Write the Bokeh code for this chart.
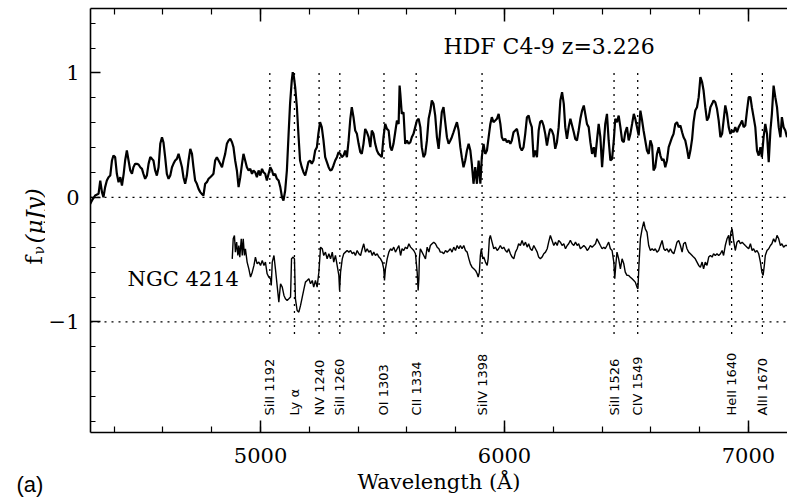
import math
from bokeh.plotting import figure
from bokeh.layouts import row
from bokeh.models import Range1d, LinearAxis, Span, Label, SingleIntervalTicker
from bokeh.embed import file_html
from bokeh.resources import INLINE
from bokeh.core.properties import value

# ---------------- data ----------------
hdf_wave = [4295, 4309, 4322, 4336, 4343, 4350, 4356, 4363, 4370, 4377, 4384, 4391, 4397, 4404, 4411, 4418,
            4425, 4432, 4439, 4445, 4452, 4459, 4466, 4473, 4479, 4486, 4493, 4500, 4507, 4514, 4520, 4527,
            4534, 4541, 4548, 4555, 4561, 4568, 4575, 4582, 4589, 4596, 4602, 4609, 4616, 4623, 4630, 4637,
            4643, 4650, 4657, 4664, 4671, 4678, 4684, 4691, 4698, 4705, 4712, 4719, 4725, 4732, 4739, 4746,
            4753, 4759, 4766, 4773, 4780, 4787, 4794, 4801, 4807, 4814, 4821, 4828, 4835, 4842, 4848, 4855,
            4862, 4869, 4876, 4883, 4889, 4896, 4903, 4910, 4917, 4924, 4930, 4937, 4944, 4951, 4958, 4965,
            4971, 4978, 4985, 4992, 4999, 5006, 5012, 5019, 5026, 5033, 5040, 5047, 5053, 5060, 5067, 5074,
            5081, 5088, 5094, 5101, 5108, 5115, 5121, 5128, 5132, 5136, 5142, 5149, 5156, 5162, 5169, 5176,
            5183, 5190, 5196, 5203, 5210, 5217, 5224, 5231, 5237, 5244, 5251, 5258,
            5265, 5272, 5279, 5286, 5292, 5299, 5306, 5313, 5320, 5327, 5333, 5340, 5347, 5354, 5361, 5368,
            5374, 5381, 5388, 5395, 5402, 5409, 5415, 5422, 5429, 5436, 5443, 5450, 5456, 5463, 5470, 5477,
            5484, 5491, 5497, 5504, 5511, 5518, 5525, 5532, 5538, 5545, 5552, 5559, 5566, 5570, 5573, 5579,
            5586, 5593, 5600, 5607, 5614, 5620, 5627, 5634, 5641, 5648, 5655, 5661, 5668, 5675, 5682, 5689,
            5696, 5702, 5709, 5716, 5723, 5730, 5737, 5743, 5750, 5757, 5764, 5771, 5778, 5784, 5791, 5798,
            5805, 5812, 5819, 5825, 5832, 5839, 5846, 5853, 5860, 5866, 5873, 5880, 5887, 5894, 5901, 5907,
            5914, 5921, 5928, 5935, 5942, 5948, 5955, 5962, 5969, 5976, 5983, 5989, 5996, 6003, 6010, 6017,
            6024, 6030, 6037, 6044, 6051, 6058, 6064, 6071, 6078, 6085, 6092, 6099, 6105, 6112, 6119, 6126,
            6133, 6140, 6146, 6153, 6160, 6167, 6174, 6181, 6187, 6194, 6201,
            6208, 6215, 6222, 6229, 6236, 6243, 6249, 6256, 6263, 6270, 6277, 6284, 6290, 6297, 6304, 6311,
            6318, 6325, 6331, 6338, 6345, 6352, 6359, 6366, 6372, 6379, 6386, 6393, 6400, 6407, 6413, 6420,
            6427, 6434, 6441, 6448, 6454, 6461, 6468, 6475, 6482, 6489, 6495, 6502, 6509, 6516, 6523, 6530,
            6536, 6543, 6550, 6557, 6564, 6570, 6577, 6584, 6591, 6598, 6605, 6611, 6618, 6625, 6632, 6639,
            6646, 6652, 6659, 6666, 6673, 6680, 6687, 6693, 6700, 6707, 6714, 6721, 6728, 6734, 6741, 6748,
            6755, 6762, 6769, 6775, 6782, 6789, 6796, 6803, 6810, 6816, 6823, 6830, 6837, 6844, 6851, 6857,
            6864, 6871, 6878, 6885, 6892, 6898, 6905, 6912, 6919, 6926, 6933, 6939, 6946, 6953, 6960, 6967,
            6974, 6980, 6987, 6994, 7001, 7008, 7014, 7021, 7028, 7035, 7042, 7049, 7055, 7062, 7069, 7076,
            7083, 7090, 7096, 7103, 7110, 7117, 7124, 7131, 7137, 7144, 7151, 7158]
hdf_flux = [-0.078, -0.024, 0.016, 0.029, 0.136, 0.043, 0.002, 0.083, 0.136, 0.163, 0.176, 0.297, 0.337, 0.324, 0.190, 0.123,
            0.163, 0.096, 0.190, 0.297, 0.377, 0.297, 0.217, 0.190, 0.243, 0.270, 0.270, 0.265, 0.243, 0.230, 0.190, 0.150,
            0.176, 0.270, 0.324, 0.310, 0.297, 0.217, 0.176, 0.243, 0.431, 0.484, 0.444, 0.324, 0.190, 0.150, 0.176, 0.243,
            0.270, 0.297, 0.310, 0.350, 0.297, 0.243, 0.163, 0.110, 0.176, 0.297, 0.391, 0.350, 0.243, 0.136, 0.110, 0.069,
            0.043, 0.029, 0.016, 0.110, 0.123, 0.150, 0.163, 0.176, 0.190, 0.297, 0.324, 0.297, 0.270, 0.243, 0.297, 0.350,
            0.431, 0.458, 0.471, 0.444, 0.404, 0.297, 0.217, 0.083, 0.163, 0.270, 0.350, 0.297, 0.243, 0.217, 0.230, 0.190,
            0.217, 0.203, 0.163, 0.217, 0.176, 0.230, 0.203, 0.190, 0.136, 0.190, 0.243, 0.217, 0.176, 0.190, 0.150, 0.136,
            0.083, 0.002, -0.024, 0.056, 0.217, 0.511, 0.752, 0.939, 1.006, 0.980, 0.886, 0.725, 0.484, 0.297, 0.243, 0.203,
            0.176, 0.230, 0.284, 0.297, 0.270, 0.297, 0.377, 0.404, 0.511, 0.605, 0.565, 0.458,
            0.324, 0.284, 0.243, 0.217, 0.222, 0.257, 0.297, 0.324, 0.364, 0.350, 0.324, 0.337, 0.377, 0.324, 0.458, 0.632,
            0.725, 0.645, 0.538, 0.511, 0.431, 0.364, 0.350, 0.431, 0.551, 0.524, 0.484, 0.404, 0.538, 0.511, 0.431, 0.377,
            0.350, 0.337, 0.324, 0.484, 0.591, 0.551, 0.538, 0.404, 0.377, 0.431, 0.524, 0.618, 0.591, 0.899, 0.832, 0.672,
            0.685, 0.431, 0.458, 0.431, 0.444, 0.484, 0.511, 0.565, 0.618, 0.632, 0.565, 0.404, 0.324, 0.350, 0.458, 0.632,
            0.698, 0.779, 0.752, 0.658, 0.484, 0.391, 0.551, 0.685, 0.725, 0.605, 0.484, 0.431, 0.458, 0.484, 0.524, 0.565,
            0.605, 0.538, 0.404, 0.324, 0.243, 0.297, 0.377, 0.431, 0.377, 0.270, 0.110, 0.243, 0.110, 0.297, 0.110, 0.324,
            0.431, 0.350, 0.377, 0.484, 0.591, 0.645, 0.605, 0.618, 0.632, 0.672, 0.591, 0.484, 0.458, 0.471, 0.444, 0.458,
            0.431, 0.458, 0.524, 0.538, 0.551, 0.484, 0.404, 0.377, 0.404, 0.511, 0.645, 0.658, 0.605, 0.565, 0.324, 0.377,
            0.324, 0.538, 0.605, 0.618, 0.578, 0.511, 0.417, 0.498, 0.551, 0.538, 0.498,
            0.391, 0.444, 0.565, 0.779, 0.846, 0.752, 0.565, 0.471, 0.565, 0.632, 0.578, 0.524, 0.471, 0.458, 0.538, 0.632,
            0.698, 0.739, 0.672, 0.591, 0.565, 0.444, 0.350, 0.404, 0.324, 0.458, 0.591, 0.484, 0.243, 0.431, 0.591, 0.672,
            0.458, 0.297, 0.310, 0.458, 0.632, 0.605, 0.658, 0.565, 0.458, 0.444, 0.524, 0.565, 0.458, 0.511, 0.591, 0.672,
            0.632, 0.565, 0.498, 0.698, 0.618, 0.538, 0.458, 0.377, 0.350, 0.458, 0.417, 0.217, 0.243, 0.350, 0.404, 0.337,
            0.297, 0.310, 0.243, 0.297, 0.404, 0.444, 0.484, 0.511, 0.591, 0.605, 0.565, 0.578, 0.524, 0.484, 0.458, 0.391,
            0.310, 0.377, 0.471, 0.605, 0.698, 0.725, 0.806, 0.966, 0.926, 0.859, 0.725, 0.618, 0.645, 0.725, 0.752, 0.779,
            0.765, 0.712, 0.618, 0.484, 0.511, 0.618, 0.739, 0.672, 0.565, 0.511, 0.538, 0.524, 0.565, 0.524, 0.565, 0.591,
            0.618, 0.565, 0.578, 0.698, 0.806, 0.806, 0.725, 0.645, 0.565, 0.377, 0.337, 0.404, 0.324, 0.484, 0.591, 0.511,
            0.284, 0.538, 0.672, 0.899, 0.806, 0.725, 0.565, 0.484, 0.645, 0.565, 0.538, 0.484]

ngc_wave = [4884, 4888, 4893, 4897, 4902, 4907, 4911, 4915, 4921, 4925, 4929, 4934, 4938, 4945, 4952, 4959,
            4966, 4973, 4979, 4986, 4993, 5000, 5007, 5014, 5020, 5027, 5034, 5041, 5044, 5048, 5055, 5061,
            5068, 5075, 5082, 5089, 5096, 5102, 5109, 5116, 5123, 5127, 5134, 5139, 5143, 5150, 5157, 5164,
            5171, 5178, 5184, 5191, 5198, 5205, 5212, 5218, 5225, 5232, 5239, 5246, 5253, 5259, 5266, 5273,
            5280, 5287, 5294, 5300, 5307, 5314, 5321, 5324, 5328, 5335, 5341, 5348, 5355, 5362, 5369, 5376,
            5382, 5389, 5396, 5403, 5410, 5417, 5423, 5430, 5437, 5444, 5451, 5458, 5464, 5471, 5478, 5485,
            5492, 5499, 5505, 5508, 5512, 5519, 5526, 5533, 5539, 5546, 5553, 5560, 5567, 5574, 5580, 5587,
            5594, 5601, 5608, 5615,
            5628, 5635, 5642, 5646, 5649, 5651, 5655, 5662, 5669, 5676, 5683, 5690, 5696, 5703, 5710, 5717,
            5724, 5731, 5737, 5744, 5751, 5758, 5765, 5772, 5778, 5785, 5792, 5799, 5806, 5813, 5819, 5826,
            5833, 5840, 5847, 5854, 5860, 5867, 5874, 5881, 5888, 5892, 5897, 5901, 5905, 5911, 5915, 5922,
            5929, 5933, 5938, 5942, 5949, 5956, 5963, 5970, 5976, 5983, 5990, 5997, 6004, 6011, 6017, 6024,
            6031, 6038, 6045, 6052, 6058, 6065, 6072, 6079, 6086, 6093, 6099, 6106, 6113, 6120, 6127, 6134,
            6140, 6147, 6154, 6161, 6168, 6175, 6181, 6188, 6195, 6202, 6209, 6216, 6222, 6229, 6236, 6243,
            6250, 6257, 6263, 6270, 6277, 6284, 6291, 6298, 6304, 6311, 6318, 6325, 6332, 6339, 6345, 6352,
            6359, 6366, 6373,
            6379, 6386, 6393, 6400, 6407, 6413, 6420, 6427, 6434, 6441, 6448, 6452, 6456, 6461, 6468, 6475,
            6482, 6489, 6495, 6502, 6509, 6516, 6523, 6530, 6536, 6543, 6547, 6551, 6557, 6564, 6571, 6577,
            6584, 6591, 6598, 6605, 6612, 6618, 6625, 6632, 6639, 6646, 6653, 6659, 6666, 6673, 6680, 6687,
            6694, 6700, 6707, 6714, 6721, 6728, 6734, 6741, 6748, 6755, 6762, 6769, 6775, 6782, 6789, 6796,
            6803, 6810, 6816, 6823, 6830, 6837, 6844, 6851, 6857, 6864, 6871, 6878, 6885, 6892, 6898, 6905,
            6912, 6919, 6923, 6928, 6933, 6939, 6946, 6953, 6960, 6967, 6974, 6980, 6987, 6994, 7001, 7008,
            7015, 7021, 7028, 7035, 7042, 7049, 7055, 7060, 7065, 7069, 7076, 7083, 7090, 7096, 7103, 7110,
            7117, 7124, 7131, 7137, 7144, 7151, 7158]
ngc_flux = [-0.493, -0.332, -0.305, -0.439, -0.359, -0.466, -0.386, -0.479, -0.332, -0.466, -0.332, -0.466, -0.412, -0.519, -0.573, -0.640,
            -0.600, -0.546, -0.479, -0.533, -0.519, -0.546, -0.506, -0.546, -0.519, -0.613, -0.640, -0.653, -0.707, -0.519, -0.466, -0.573,
            -0.707, -0.841, -0.693, -0.720, -0.787, -0.814, -0.827, -0.814, -0.800, -0.493, -0.479, -0.493, -0.814, -0.908, -0.921, -0.867,
            -0.800, -0.734, -0.680, -0.667, -0.653, -0.693, -0.667, -0.720, -0.667, -0.720, -0.600, -0.399, -0.412, -0.466, -0.439, -0.493,
            -0.452, -0.493, -0.439, -0.519, -0.466, -0.546, -0.626, -0.747, -0.600, -0.493, -0.452, -0.439, -0.426, -0.439, -0.426, -0.452,
            -0.439, -0.466, -0.426, -0.452, -0.466, -0.412, -0.372, -0.439, -0.412, -0.439, -0.426, -0.466, -0.439, -0.466, -0.452, -0.479,
            -0.493, -0.519, -0.573, -0.667, -0.573, -0.493, -0.439, -0.412, -0.426, -0.399, -0.439, -0.412, -0.386, -0.466, -0.412, -0.426,
            -0.399, -0.412, -0.372, -0.399,
            -0.426, -0.452, -0.600, -0.747, -0.653, -0.493, -0.412, -0.439, -0.466, -0.493, -0.399, -0.439, -0.386, -0.372, -0.359, -0.372,
            -0.399, -0.412, -0.439, -0.439, -0.452, -0.426, -0.439, -0.426, -0.412, -0.439, -0.399, -0.426, -0.386, -0.412, -0.386, -0.412,
            -0.386, -0.426, -0.439, -0.493, -0.533, -0.560, -0.573, -0.586, -0.613, -0.640, -0.600, -0.466, -0.412, -0.493, -0.479, -0.519,
            -0.546, -0.493, -0.332, -0.305, -0.359, -0.412, -0.399, -0.426, -0.412, -0.386, -0.412, -0.399, -0.426, -0.439, -0.412, -0.452,
            -0.479, -0.493, -0.439, -0.412, -0.372, -0.386, -0.345, -0.386, -0.359, -0.399, -0.372, -0.412, -0.426, -0.386, -0.412, -0.439,
            -0.479, -0.493, -0.479, -0.452, -0.439, -0.412, -0.359, -0.305, -0.345, -0.386, -0.359, -0.386, -0.345, -0.359, -0.386, -0.372,
            -0.412, -0.386, -0.372, -0.345, -0.372, -0.386, -0.359, -0.386, -0.372, -0.412, -0.399, -0.386, -0.399, -0.426, -0.412, -0.386,
            -0.399, -0.386, -0.372,
            -0.332, -0.359, -0.386, -0.412, -0.399, -0.412, -0.386, -0.359, -0.412, -0.426, -0.519, -0.653, -0.546, -0.439, -0.493, -0.573,
            -0.493, -0.533, -0.600, -0.626, -0.626, -0.640, -0.653, -0.667, -0.680, -0.720, -0.734, -0.546, -0.332, -0.252, -0.195, -0.252,
            -0.278, -0.386, -0.426, -0.412, -0.426, -0.412, -0.439, -0.426, -0.386, -0.345, -0.412, -0.426, -0.412, -0.439, -0.412, -0.439,
            -0.452, -0.412, -0.359, -0.345, -0.386, -0.439, -0.372, -0.359, -0.412, -0.439, -0.452, -0.466, -0.479, -0.493, -0.519, -0.546,
            -0.560, -0.519, -0.573, -0.519, -0.546, -0.479, -0.466, -0.479, -0.452, -0.466, -0.452, -0.466, -0.452, -0.426, -0.466, -0.386,
            -0.332, -0.305, -0.386, -0.278, -0.252, -0.345, -0.426, -0.359, -0.345, -0.372, -0.359, -0.372, -0.386, -0.399, -0.412, -0.372,
            -0.426, -0.412, -0.439, -0.426, -0.452, -0.519, -0.600, -0.626, -0.546, -0.466, -0.426, -0.412, -0.386, -0.372, -0.332, -0.359,
            -0.305, -0.332, -0.386, -0.372, -0.399, -0.386, -0.386]

line_names = ["SiII 1192", "Ly \u03b1", "NV 1240", "SiII 1260", "OI 1303", "CII 1334",
              "SiIV 1398", "SiII 1526", "CIV 1549", "HeII 1640", "AlII 1670"]
line_waves = [5038, 5139, 5240, 5325, 5506, 5638, 5908, 6449, 6546, 6931, 7057]
line_top = 1.0
line_bottom = -1.11
label_base = -1.751

x_major = 1000
y_major = 1
y_tick_text = {-1: "\u22121", 0: "0", 1: "1"}

SERIF = "DejaVu Serif"
W = 787
H = 502
STRIP_W = 45

# ---------------- left strip: y-axis title and panel letter ----------------
s = figure(width=STRIP_W, height=H, output_backend="svg", toolbar_location=None,
           x_range=Range1d(0, STRIP_W), y_range=Range1d(0, H),
           x_axis_location=None, y_axis_location=None,
           min_border_left=0, min_border_right=0, min_border_top=0, min_border_bottom=0)
s.frame_align = False
s.outline_line_color = None
s.grid.visible = False
s.text(x=[33], y=[238], text=["f"], angle=math.pi / 2, text_align="left",
       text_baseline="alphabetic", text_color="black",
       text_font=value(SERIF), text_font_size=value("23px"))
s.text(x=[38], y=[248], text=["\u03bd"], angle=math.pi / 2, text_align="left",
       text_baseline="alphabetic", text_color="black",
       text_font=value(SERIF), text_font_size=value("14px"))
s.text(x=[33], y=[259], text=["(\u03bcJy)"], angle=math.pi / 2, text_align="left",
       text_baseline="alphabetic", text_color="black", text_font_style="italic",
       text_font=value(SERIF), text_font_size=value("23px"))
s.text(x=[16], y=[18], text=["(a)"], text_align="left", text_baseline="alphabetic",
       text_color="black", text_font=value("Liberation Sans"), text_font_size=value("22px"))

# ---------------- main panel ----------------
p = figure(width=W - STRIP_W, height=H, output_backend="svg", toolbar_location=None,
           x_range=Range1d(4303, 7160), y_range=Range1d(-1.888, 1.518),
           min_border_left=42, min_border_right=0, min_border_top=8, min_border_bottom=70)
p.frame_align = False
p.outline_line_color = None
p.xgrid.visible = False
p.ygrid.visible = False

bottom = p.below[0]
left = p.left[0]
bottom.ticker = SingleIntervalTicker(interval=x_major, num_minor_ticks=5)
bottom.major_tick_in = 12
bottom.major_tick_out = 0
bottom.minor_tick_in = 6
bottom.minor_tick_out = 0
bottom.major_label_standoff = 15
bottom.axis_label = "Wavelength (\u00c5)"
bottom.axis_label_standoff = 4
bottom.axis_label_text_font = SERIF
bottom.axis_label_text_font_size = "21px"
bottom.axis_label_text_font_style = "normal"
bottom.axis_label_text_color = "black"

left.ticker = SingleIntervalTicker(interval=y_major, num_minor_ticks=5)
left.major_tick_in = 10
left.major_tick_out = 0
left.minor_tick_in = 5
left.minor_tick_out = 0
left.major_label_standoff = 11
left.major_label_overrides = y_tick_text

top = LinearAxis(ticker=SingleIntervalTicker(interval=x_major, num_minor_ticks=5),
                 major_label_text_font_size="0px", major_label_standoff=0,
                 major_tick_in=13, major_tick_out=0, minor_tick_in=6, minor_tick_out=0)
p.add_layout(top, "above")

for ax in (bottom, left, top):
    ax.axis_line_width = 1.6
    ax.axis_line_color = "black"
    ax.major_tick_line_width = 1.5
    ax.minor_tick_line_width = 1.2
    ax.major_tick_line_color = "black"
    ax.minor_tick_line_color = "black"
for ax in (bottom, left):
    ax.major_label_text_font = SERIF
    ax.major_label_text_color = "black"
    ax.major_label_text_font_size = "21px"
top.major_label_text_color = None

# dotted reference lines
for loc in (0, -1):
    p.add_layout(Span(location=loc, dimension="width", line_color="black",
                      line_width=1.3, line_dash="2 5"))
n = len(line_waves)
p.segment(x0=line_waves, y0=[line_top] * n, x1=line_waves, y1=[line_bottom] * n,
          line_color="black", line_width=1.3, line_dash="2 5")

# spectra
p.line(hdf_wave, hdf_flux, line_color="black", line_width=2.2)
p.line(ngc_wave, ngc_flux, line_color="black", line_width=1.4)

# line identifications
p.text(x=line_waves, y=[label_base] * n, text=line_names, angle=math.pi / 2,
       text_align="left", text_baseline="middle", text_color="black",
       text_font=value("DejaVu Sans"), text_font_size=value("13px"))

# object labels
p.add_layout(Label(x=5750, y=1.213, text="HDF C4-9 z=3.226", text_font=SERIF,
                   text_font_size="22px", text_color="black", text_baseline="alphabetic"))
p.add_layout(Label(x=4455, y=-0.651, text="NGC 4214", text_font=SERIF,
                   text_font_size="21px", text_color="black", text_baseline="alphabetic"))

layout = row(s, p, spacing=0)
open("out.html", "w").write(file_html(layout, INLINE))
